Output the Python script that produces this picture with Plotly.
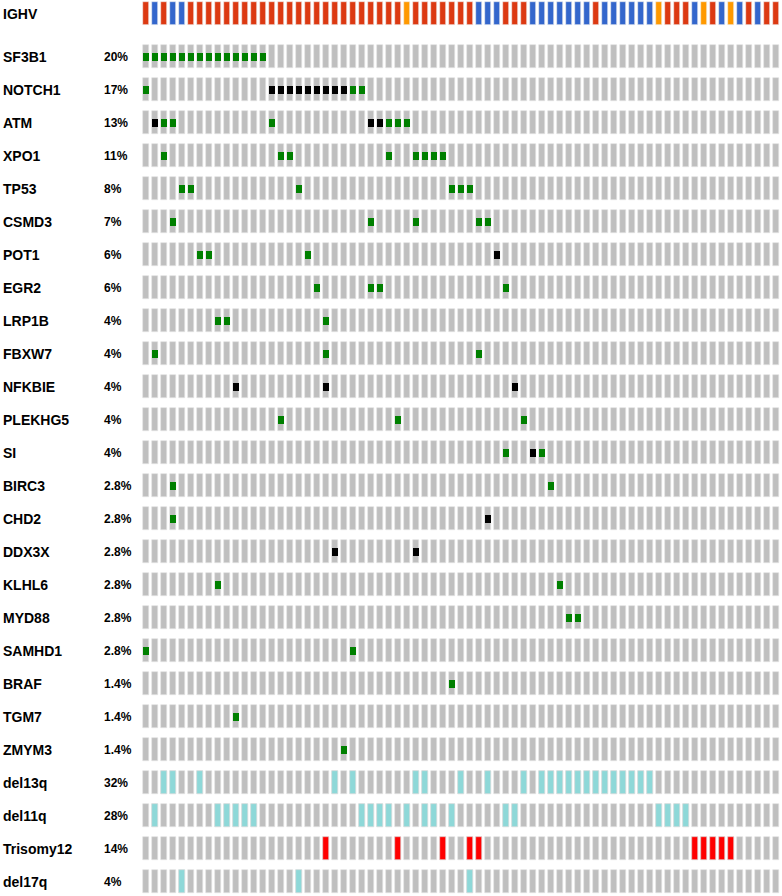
import numpy as np
import plotly.graph_objects as go

# ---------------- data ----------------
n_samples = 71
genes = ["SF3B1", "NOTCH1", "ATM", "XPO1", "TP53", "CSMD3", "POT1", "EGR2", "LRP1B",
         "FBXW7", "NFKBIE", "PLEKHG5", "SI", "BIRC3", "CHD2", "DDX3X", "KLHL6",
         "MYD88", "SAMHD1", "BRAF", "TGM7", "ZMYM3"]
gene_pct = ["20%", "17%", "13%", "11%", "8%", "7%", "6%", "6%", "4%", "4%", "4%", "4%",
            "4%", "2.8%", "2.8%", "2.8%", "2.8%", "2.8%", "2.8%", "1.4%", "1.4%", "1.4%"]
# sample columns carrying a missense (green) / truncating (black) mutation, per gene
missense_cols = [
    list(range(0, 14)), [0, 23, 24], [2, 3, 14, 27, 28, 29], [2, 15, 16, 27, 30, 31, 32, 33],
    [4, 5, 17, 34, 35, 36], [3, 25, 30, 37, 38], [6, 7, 18], [19, 25, 26, 40], [8, 9, 20],
    [1, 20, 37], [], [15, 28, 42], [40, 44], [3, 45], [3], [], [8, 46], [47, 48], [0, 23],
    [34], [10], [22]]
truncating_cols = [
    [], list(range(14, 23)), [1, 25, 26], [], [], [], [39], [], [],
    [], [10, 20, 41], [], [43], [], [38], [21, 30], [], [], [],
    [], [], []]

cnv_names = ["del13q", "del11q", "Trisomy12", "del17q"]
cnv_pct = ["32%", "28%", "14%", "4%"]
cnv_type = ["del", "del", "gain", "del"]
cnv_cols = [
    [2, 3, 6, 21, 23, 30, 31, 35, 38, 42] + list(range(44, 57)),
    [1, 8, 9, 10, 11, 12, 24, 25, 26, 27, 29, 31, 32, 34, 40, 41, 57, 58, 59, 60],
    [20, 28, 33, 36, 37, 61, 62, 63, 64, 65],
    [4, 17, 36]]

# IGHV status per sample: U = red, M = blue, N = orange
ighv = list("UMUMM" + "U" * 24 + "N" + "U" * 7 + "MMM" + "UUU" + "M" * 7 + "U" + "M" * 6
            + "NUUUMNUMNMUMUU")

# ---------------- styling ----------------
GRAY = "#BFBFBF"
GREEN = "#008000"
BLACK = "#000000"
CYAN = "#8ED8D8"
RED = "#FF0000"
IGHV_COL = {"U": "#DC3912", "M": "#3366CC", "N": "#FF9900"}

W, H = 782, 896
PX_X = 9.0          # pixels per sample column
PX_Y = 33.0         # pixels per row
x0_px = 146.0       # pixel centre of first column
y0_px = 56.5        # pixel centre of first gene row
cell_w = 6.0 / PX_X
cell_h = 23.0 / PX_Y
mut_h = 8.0 / PX_Y

row_labels = genes + cnv_names
row_pcts = gene_pct + cnv_pct
n_rows = len(row_labels)
ighv_row = -1.3

fig = go.Figure()

# background grey cells
bx, bbase = [], []
for r in range(n_rows):
    for c in range(n_samples):
        bx.append(c)
        bbase.append(r - cell_h / 2)
fig.add_trace(go.Bar(x=bx, y=[cell_h] * len(bx), base=bbase, width=cell_w,
                     marker=dict(color=GRAY, line=dict(width=0.6, color="#E2E2E2")),
                     hoverinfo="skip", showlegend=False))

# IGHV row
for code, col in IGHV_COL.items():
    xs = [i for i, v in enumerate(ighv) if v == code]
    fig.add_trace(go.Bar(x=xs, y=[cell_h] * len(xs), base=[ighv_row - cell_h / 2] * len(xs),
                         width=cell_w, marker=dict(color=col, line=dict(width=0.6, color="#F0F0F0")),
                         hoverinfo="skip", showlegend=False))

# mutations
for cols_list, colr in ((missense_cols, GREEN), (truncating_cols, BLACK)):
    xs, bases = [], []
    for r, cols in enumerate(cols_list):
        for c in cols:
            xs.append(c)
            bases.append(r - mut_h / 2)
    fig.add_trace(go.Bar(x=xs, y=[mut_h] * len(xs), base=bases, width=cell_w,
                         marker=dict(color=colr, line=dict(width=0)),
                         hoverinfo="skip", showlegend=False))

# copy number events
for kind, colr in (("del", CYAN), ("gain", RED)):
    xs, bases = [], []
    for k, cols in enumerate(cnv_cols):
        if cnv_type[k] != kind:
            continue
        r = len(genes) + k
        for c in cols:
            xs.append(c)
            bases.append(r - cell_h / 2)
    fig.add_trace(go.Bar(x=xs, y=[cell_h] * len(xs), base=bases, width=cell_w,
                         marker=dict(color=colr, line=dict(width=0.6, color="#E2E2E2")),
                         hoverinfo="skip", showlegend=False))

# labels
font_lab = dict(family="Liberation Sans, Arial, sans-serif", size=14, color="#000000", weight="bold")
font_pct = dict(family="Liberation Sans, Arial, sans-serif", size=12, color="#000000", weight="bold")
ann = [dict(x=1 / W, xref="paper", y=ighv_row, yref="y", text="IGHV", showarrow=False,
            xanchor="left", yanchor="middle", font=font_lab)]
for r, (lab, pct) in enumerate(zip(row_labels, row_pcts)):
    ann.append(dict(x=1 / W, xref="paper", y=r, yref="y", text=lab, showarrow=False,
                    xanchor="left", yanchor="middle", font=font_lab))
    ann.append(dict(x=102 / W, xref="paper", y=r, yref="y", text=pct, showarrow=False,
                    xanchor="left", yanchor="middle", font=font_pct))

x_lo = -x0_px / PX_X
x_hi = (W - x0_px) / PX_X
y_top = -y0_px / PX_Y
y_bot = y_top + H / PX_Y

fig.update_layout(
    width=W, height=H, margin=dict(l=0, r=0, t=0, b=0),
    paper_bgcolor="white", plot_bgcolor="white",
    barmode="overlay", bargap=0,
    xaxis=dict(range=[x_lo, x_hi], visible=False, fixedrange=True),
    yaxis=dict(range=[y_bot, y_top], visible=False, fixedrange=True),
    annotations=ann,
)

fig.write_html("out.html", config={"displayModeBar": False},
               post_script="document.body.style.margin='0';document.body.style.overflow='hidden';")
